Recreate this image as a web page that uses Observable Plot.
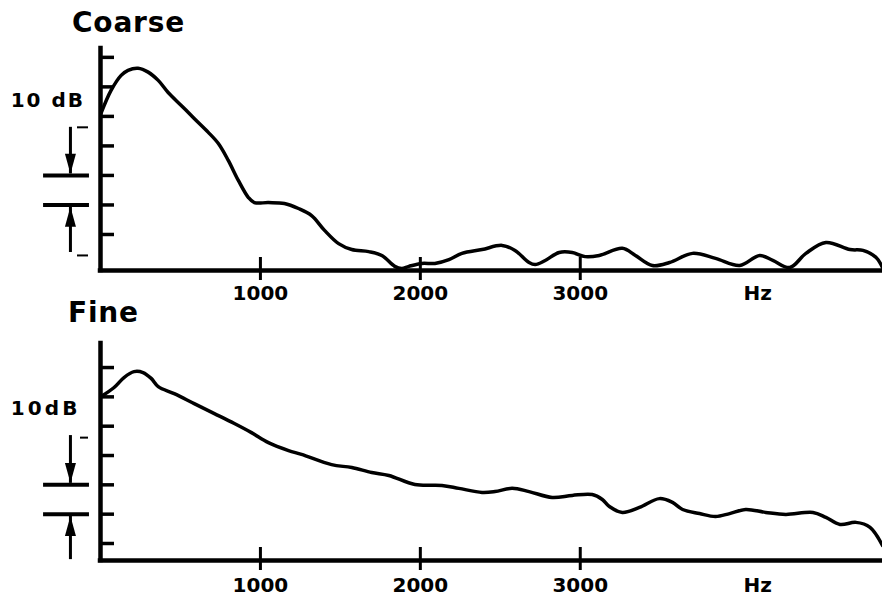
<!DOCTYPE html>
<html>
<head>
<meta charset="utf-8">
<script src="https://cdn.jsdelivr.net/npm/d3@7"></script>
<script src="https://cdn.jsdelivr.net/npm/@observablehq/plot@0.6"></script>
<style>
  html, body { margin: 0; padding: 0; background: #fff; }
  #wrap { position: relative; width: 882px; height: 599px; overflow: hidden; background: #fff; }
  .panel { position: absolute; left: 0; }
  .title { position: absolute; font: bold 28px "DejaVu Sans", sans-serif; line-height: 1; letter-spacing: 0.8px; color: #000; }
  svg text { letter-spacing: 0px; }
</style>
</head>
<body>
<div id="wrap"></div>
<script>
// ---------- data ----------
const coarseTitle = "Coarse";
const fineTitle = "Fine";

const coarseHz = [3, 66, 129, 172, 235, 298, 361, 423, 505, 586, 674, 737, 799, 862, 925, 962, 1050, 1150, 1238, 1320, 1401, 1489, 1571, 1677, 1759, 1840, 1884, 1928, 2009, 2091, 2179, 2260, 2386, 2511, 2592, 2680, 2718, 2781, 2868, 2950, 3031, 3119, 3263, 3345, 3451, 3558, 3702, 3846, 3997, 4122, 4204, 4310, 4411, 4536, 4687, 4768, 4850, 4890];
const coarseDb = [41.0, 48.8, 53.9, 55.6, 56.3, 55.0, 52.2, 48.1, 43.7, 39.3, 34.6, 30.8, 25.1, 18.3, 12.5, 10.8, 10.8, 10.5, 8.8, 6.4, 1.4, -3.1, -5.1, -5.8, -7.1, -10.8, -11.5, -10.8, -9.8, -9.8, -8.5, -6.4, -5.1, -3.7, -5.4, -9.5, -10.2, -8.8, -6.1, -6.1, -7.5, -7.1, -4.7, -7.1, -10.5, -9.5, -6.4, -8.1, -10.5, -7.1, -8.8, -11.2, -6.4, -2.7, -5.1, -5.4, -7.8, -11.2];

const fineHz = [3, 85, 147, 210, 266, 317, 361, 461, 586, 712, 837, 944, 1050, 1176, 1257, 1445, 1571, 1696, 1803, 1966, 2135, 2241, 2386, 2467, 2574, 2680, 2824, 2950, 3075, 3138, 3182, 3263, 3370, 3495, 3577, 3640, 3746, 3846, 3934, 4034, 4160, 4285, 4455, 4536, 4624, 4724, 4812, 4890];
const fineDb = [50.1, 53.2, 56.6, 58.6, 58.3, 56.3, 53.5, 51.1, 47.7, 44.3, 40.9, 37.8, 34.4, 31.7, 30.4, 26.9, 25.9, 24.2, 23.2, 20.1, 19.8, 18.8, 17.4, 17.7, 18.8, 17.7, 15.7, 16.4, 16.7, 15.0, 12.6, 10.6, 12.3, 15.3, 14.0, 11.6, 10.2, 9.2, 10.2, 11.6, 10.6, 9.9, 10.6, 8.9, 6.5, 7.2, 5.5, -0.7];

const xTicks = [1000, 2000, 3000];
const xTickLabels = ["1000", "2000", "3000"];
const yTicks = [0, 10, 20, 30, 40, 50, 60];
const unitLabel = "Hz";
const unitHz = 4110;
const scaleBar = [10, 20];          // the 10 dB interval between the two bars
const coarseScaleLabel = "10 dB";
const fineScaleLabel = "10dB";

// ---------- drawing ----------
const FONT = '"DejaVu Sans", sans-serif';
const wrap = document.getElementById("wrap");

// narrow filled arrowheads (tip at the anchor point)
const headDown = {draw(ctx) { ctx.moveTo(-5.5, -20); ctx.lineTo(5.5, -20); ctx.lineTo(0, 0); ctx.closePath(); }};
const headUp = {draw(ctx) { ctx.moveTo(-5.5, 20); ctx.lineTo(5.5, 20); ctx.lineTo(0, 0); ctx.closePath(); }};

function panel(cfg) {
  const data = cfg.hz.map((x, i) => ({x, y: cfg.db[i]}));
  const [y0, y1] = cfg.yDomain;
  const barX1 = -356, barX2 = -69, arrowX = -188, dashX2 = -75;
  const chart = Plot.plot({
    width: 882,
    height: cfg.height,
    marginLeft: 100,
    marginRight: 0,
    marginTop: cfg.marginTop,
    marginBottom: cfg.marginBottom,
    x: {domain: [0, 4890]},
    y: {domain: cfg.yDomain},
    style: {background: "transparent", overflow: "visible", fontFamily: FONT, color: "#000"},
    marks: [
      Plot.axisY(yTicks, {tickSize: -14, strokeWidth: 3.5, tickFormat: () => "", label: null}),
      Plot.axisX(xTicks, {tickSize: 10, tickPadding: cfg.tickPad, strokeWidth: 3, label: null,
        tickFormat: (d) => xTickLabels[xTicks.indexOf(d)], fontSize: 20, fontWeight: "bold"}),
      Plot.axisX(xTicks, {tickSize: -13, strokeWidth: 3, label: null, tickFormat: () => ""}),
      Plot.ruleX([0], {y1: y0, y2: y1, strokeWidth: 4.5, strokeLinecap: "square"}),
      Plot.ruleY([y0], {strokeWidth: 4.5, strokeLinecap: "square"}),
      Plot.text([{x: unitHz, t: unitLabel}], {x: "x", text: "t", frameAnchor: "bottom", lineAnchor: "top",
        dy: 10 + cfg.tickPad, fontSize: 20, fontWeight: "bold"}),
      Plot.line(data, {x: "x", y: "y", curve: "catmull-rom", strokeWidth: 3.5, strokeLinejoin: "round"}),
      Plot.ruleY(scaleBar, {x1: barX1, x2: barX2, strokeWidth: 4}),
      Plot.ruleX([arrowX], {y1: cfg.arrowTopFrom, y2: scaleBar[1] + 0.5, strokeWidth: 3}),
      Plot.ruleX([arrowX], {y1: cfg.arrowBotFrom, y2: scaleBar[0] - 0.5, strokeWidth: 3}),
      Plot.dot([{x: arrowX, y: scaleBar[1] + 0.6}], {x: "x", y: "y", symbol: headDown, fill: "#000", stroke: "none"}),
      Plot.dot([{x: arrowX, y: scaleBar[0] - 0.6}], {x: "x", y: "y", symbol: headUp, fill: "#000", stroke: "none"}),
      Plot.ruleY(cfg.dashes, {x1: cfg.dashX1, x2: dashX2, strokeWidth: 2}),
      Plot.text([{x: -562, y: cfg.labelDb, t: cfg.scaleLabel}], {x: "x", y: "y", text: "t", textAnchor: "start",
        fontSize: 20, fontWeight: "bold"})
    ]
  });
  chart.classList.add("panel");
  chart.style.top = cfg.top + "px";
  d3.select(chart).selectAll("text").filter(function () { return /dB/.test(this.textContent); })
    .style("letter-spacing", cfg.labelSpacing + "px");
  wrap.appendChild(chart);
}

panel({hz: coarseHz, db: coarseDb, yDomain: [-12.2, 63], top: 0, height: 310, marginTop: 48, marginBottom: 40,
  tickPad: 5, arrowTopFrom: 36.3, arrowBotFrom: -6.1, dashes: [36.3, -7.1], dashX1: -144,
  labelDb: 45.4, scaleLabel: coarseScaleLabel, labelSpacing: 2});
panel({hz: fineHz, db: fineDb, yDomain: [-5.8, 68.2], top: 290, height: 309, marginTop: 53, marginBottom: 39,
  tickPad: 7, arrowTopFrom: 36.8, arrowBotFrom: -5.5, dashes: [36.1], dashX1: -125,
  labelDb: 46.0, scaleLabel: fineScaleLabel, labelSpacing: 3.2});

function title(text, left, top) {
  const d = document.createElement("div");
  d.className = "title";
  d.textContent = text;
  d.style.left = left + "px";
  d.style.top = top + "px";
  wrap.appendChild(d);
}
title(coarseTitle, 72, 9);
title(fineTitle, 68, 299);
</script>
</body>
</html>
